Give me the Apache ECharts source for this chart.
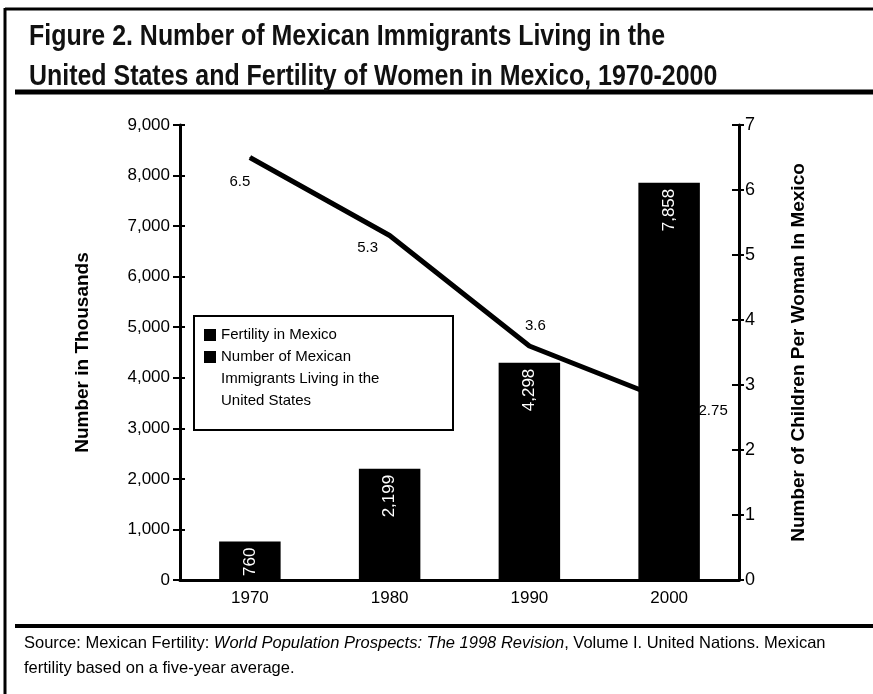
<!DOCTYPE html>
<html>
<head>
<meta charset="utf-8">
<script src="https://cdn.jsdelivr.net/npm/echarts@6/dist/echarts.min.js"></script>
<style>
  html, body { margin: 0; padding: 0; background: #fff; }
  #chart { width: 873px; height: 694px; }
</style>
</head>
<body>
<div id="chart"></div>
<script>
// data
var years = ['1970', '1980', '1990', '2000'];
var immigrants = [760, 2199, 4298, 7858];     // thousands
var fertility = [6.5, 5.3, 3.6, 2.75];         // children per woman
var leftTicks = [0, 9000, 1000];
var rightTicks = [0, 7, 1];

var FONT = '"Liberation Sans Narrow", "Liberation Sans", Arial, sans-serif';
// where each fertility label sits relative to its point
var labelOffsets = [[-10, 24], [-22, 12], [6, -20], [44, 10]];

var lineName = 'Fertility in Mexico';
var barName = 'Number of Mexican\nImmigrants Living in the\nUnited States';

// extra axis that only draws the other half of the crossing ticks
function tickAxis(pos, t) {
    return {
        type: 'value', position: pos,
        min: t[0], max: t[1], interval: t[2],
        axisLine: { show: false },
        axisLabel: { show: false },
        splitLine: { show: false },
        axisTick: { show: true, inside: pos === 'left', length: 5, lineStyle: { color: '#000', width: 2 } }
    };
}

var myChart = echarts.init(document.getElementById('chart'));
var option = {
    backgroundColor: '#fff',
    animation: false,
    textStyle: { fontFamily: FONT, color: '#000' },
    legend: {
        orient: 'vertical',
        left: 194,
        top: 294,
        padding: [8, 72, 18, 10],
        itemWidth: 12,
        itemHeight: 12,
        itemGap: -44,
        icon: 'rect',
        textStyle: { fontFamily: FONT, fontSize: 15, lineHeight: 22, color: '#000' },
        formatter: function (name) {
            // two blank lines so the marker lines up with the first text line
            return name === barName ? ' \n \n' + name : name;
        },
        data: [lineName, barName]
    },
    grid: { left: 180, right: 134, top: 125, bottom: 114 },
    xAxis: {
        type: 'category',
        data: years,
        axisLine: { lineStyle: { color: '#000', width: 3 } },
        axisTick: { show: false },
        axisLabel: { fontFamily: FONT, fontSize: 17, color: '#000', margin: 10 }
    },
    yAxis: [
        {
            type: 'value',
            min: leftTicks[0], max: leftTicks[1], interval: leftTicks[2],
            name: 'Number in Thousands',
            nameLocation: 'middle',
            nameGap: 88,
            nameTextStyle: { fontFamily: FONT, fontSize: 19, fontWeight: 'bold', color: '#000' },
            axisLine: { show: true, lineStyle: { color: '#000', width: 3 } },
            axisTick: { show: true, length: 7, lineStyle: { color: '#000', width: 2 } },
            axisLabel: {
                fontFamily: FONT, fontSize: 17, color: '#000', margin: 10,
                formatter: function (v) { return v.toLocaleString('en-US'); }
            },
            splitLine: { show: false }
        },
        {
            type: 'value',
            min: rightTicks[0], max: rightTicks[1], interval: rightTicks[2],
            name: 'Number of Children Per Woman In Mexico',
            nameLocation: 'middle',
            nameGap: 50,
            nameRotate: 90,
            nameTextStyle: { fontFamily: FONT, fontSize: 19, fontWeight: 'bold', color: '#000' },
            position: 'right',
            axisLine: { show: true, lineStyle: { color: '#000', width: 3 } },
            axisTick: { show: true, length: 7, inside: true, lineStyle: { color: '#000', width: 2 } },
            axisLabel: { fontFamily: FONT, fontSize: 18, color: '#000', margin: 6 },
            splitLine: { show: false }
        },
        tickAxis('left', leftTicks),
        tickAxis('right', rightTicks)
    ],
    series: [
        {
            name: lineName,
            type: 'line',
            yAxisIndex: 1,
            data: fertility.map(function (v, i) {
                return { value: v, label: { offset: labelOffsets[i] } };
            }),
            symbol: 'circle',
            symbolSize: 1,
            showSymbol: true,
            lineStyle: { color: '#000', width: 5 },
            itemStyle: { color: '#000' },
            label: {
                show: true,
                position: 'inside',
                fontFamily: FONT,
                fontSize: 15,
                color: '#000'
            },
            z: 3
        },
        {
            name: barName,
            type: 'bar',
            yAxisIndex: 0,
            data: immigrants,
            barWidth: '44%',
            itemStyle: { color: '#000' },
            label: {
                show: true,
                position: 'insideTop',
                rotate: 90,
                align: 'right',
                verticalAlign: 'middle',
                distance: 6,
                fontFamily: FONT,
                fontSize: 17,
                color: '#fff',
                formatter: function (p) { return p.value.toLocaleString('en-US'); }
            },
            z: 2
        }
    ],
    graphic: [
        // frame and rules
        { type: 'line', shape: { x1: 5, y1: 9, x2: 873, y2: 9 }, style: { stroke: '#000', lineWidth: 3 } },
        { type: 'line', shape: { x1: 5, y1: 8, x2: 5, y2: 694 }, style: { stroke: '#000', lineWidth: 3 } },
        { type: 'line', shape: { x1: 15, y1: 92, x2: 873, y2: 92 }, style: { stroke: '#000', lineWidth: 5 } },
        { type: 'line', shape: { x1: 15, y1: 626, x2: 873, y2: 626 }, style: { stroke: '#000', lineWidth: 4 } },
        // legend frame
        { type: 'rect', shape: { x: 194, y: 316, width: 259, height: 114 }, style: { fill: null, stroke: '#000', lineWidth: 2 }, z: 1 },
        // title, squeezed to look like the condensed original face
        {
            type: 'text',
            x: 29,
            y: 17,
            scaleX: 0.86,
            style: {
                text: 'Figure 2. Number of Mexican Immigrants Living in the\nUnited States and Fertility of Women in Mexico, 1970-2000',
                fontFamily: FONT,
                fontSize: 29,
                fontWeight: 'bold',
                lineHeight: 40,
                fill: '#111'
            }
        },
        {
            type: 'text',
            left: 24,
            top: 635,
            style: {
                text: '{n|Source: Mexican Fertility: }{i|World Population Prospects: The 1998 Revision}{n|, Volume I. United Nations. Mexican}\n{n|fertility based on a five-year average.}',
                rich: {
                    n: { fontFamily: FONT, fontSize: 16.5, lineHeight: 25, fill: '#000' },
                    i: { fontFamily: FONT, fontSize: 16.5, lineHeight: 25, fontStyle: 'italic', fill: '#000' }
                }
            }
        }
    ]
};
myChart.setOption(option);
</script>
</body>
</html>
